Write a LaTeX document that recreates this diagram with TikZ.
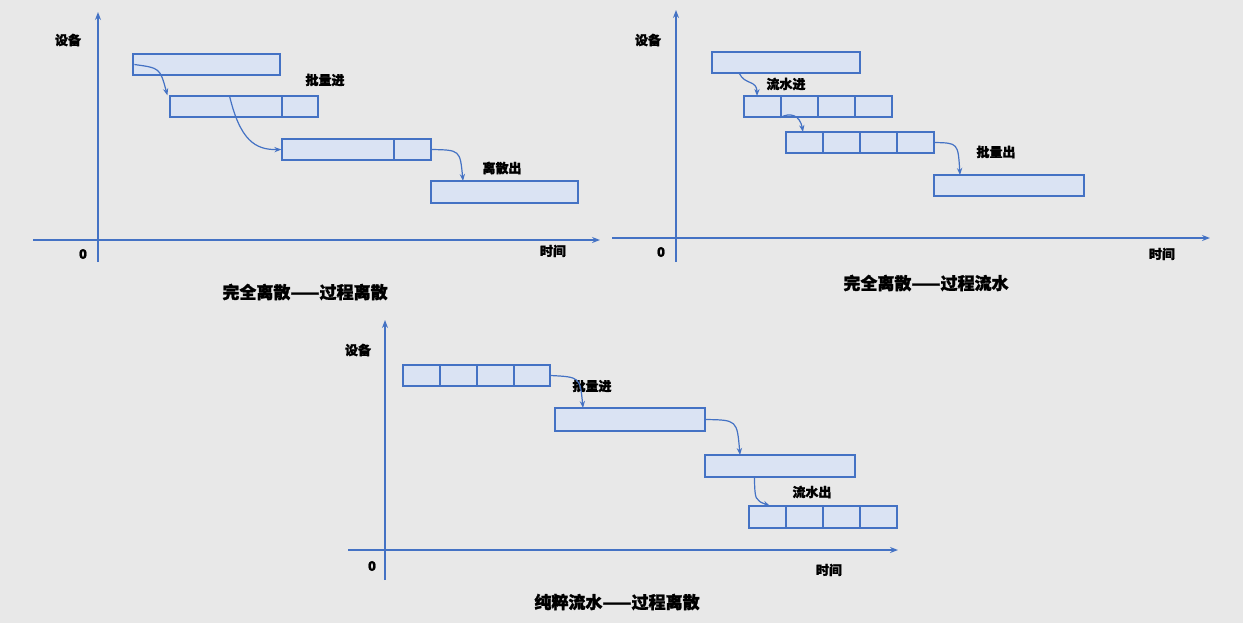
\documentclass[tikz,border=0pt]{standalone}
\usepackage{fontspec}
\setmainfont{Noto Sans CJK SC}[FakeBold=1.5]
\usetikzlibrary{arrows.meta}
\definecolor{bg}{HTML}{E8E8E8}
\definecolor{ax}{HTML}{4472C4}
\definecolor{bf}{HTML}{DAE3F3}
\tikzset{
 box/.style={draw=ax,fill=bf,line width=0.6pt,inner sep=0pt},
 axis/.style={draw=ax,line width=0.8pt,-{Stealth[length=4pt]}},
 flow/.style={draw=ax,line width=0.6pt,-{Stealth[length=3.5pt]}},
 lbl/.style={font=\fontsize{6.5pt}{7pt}\selectfont\bfseries,inner sep=0pt},
 ttl/.style={font=\fontsize{8.5pt}{9pt}\selectfont\bfseries,inner sep=0pt},
 dv/.style={draw=ax,line width=0.6pt}
}
\begin{document}
\begin{tikzpicture}[x=0.5pt,y=-0.5pt]
\fill[bg] (0,0) rectangle (1243,623);
\useasboundingbox (0,0) rectangle (1243,623);
% Panel 1
\draw[axis] (98,262) -- (98,12);
\draw[axis] (33,240) -- (600,240);
\node[lbl] (y1) at (68,40) {设备};
\node[lbl] (o1) at (83,254) {0};
\node[lbl] (t1) at (553,251) {时间};
\node[ttl] (h1) at (305,292) {完全离散——过程离散};
\node[box,minimum width=73.5pt,minimum height=10.5pt] (a1) at (206.5,64.5) {};
\node[box,minimum width=74pt,minimum height=10.5pt] (b1) at (244,106.5) {};
\node[box,minimum width=74.5pt,minimum height=10.5pt] (c1) at (356.5,149.5) {};
\node[box,minimum width=73.5pt,minimum height=11pt] (d1) at (504.5,192) {};
\draw[dv] (282,96) -- (282,117);
\draw[dv] (394,139) -- (394,160);
\node[lbl] (l11) at (325,80) {批量进};
\node[lbl] (l12) at (502,168) {离散出};
\draw[flow] ([xshift=1pt]a1.west) .. controls (160,68) .. ([xshift=-1pt]b1.north west);
\draw[flow] ([xshift=30pt]b1.north west) .. controls (240,140) and (255,150) .. (c1.west);
\draw[flow] (c1.east) .. controls (460,150) .. (463,181);
% Panel 2
\draw[axis] (676,262) -- (676,10);
\draw[axis] (612,238) -- (1210,238);
\node[lbl] (y2) at (648,40) {设备};
\node[lbl] (o2) at (661,252) {0};
\node[lbl] (t2) at (1162,254) {时间};
\node[ttl] (h2) at (926,283) {完全离散——过程流水};
\node[box,minimum width=74pt,minimum height=10.5pt] (a2) at (786,62.5) {};
\node[box,minimum width=74pt,minimum height=10.5pt] (b2) at (818,106.5) {};
\node[box,minimum width=74pt,minimum height=10.5pt] (c2) at (860,142.5) {};
\node[box,minimum width=75pt,minimum height=10.5pt] (d2) at (1009,185.5) {};
\foreach \x in {781,818,855} \draw[dv] (\x,96) -- (\x,117);
\foreach \x in {823,860,897} \draw[dv] (\x,132) -- (\x,153);
\node[lbl] (l21) at (786,84) {流水进};
\node[lbl] (l22) at (996,152) {批量出};
\draw[flow] ([xshift=14pt]a2.south west) .. controls (745,85) and (757,80) .. (757,96);
\draw[flow] ([xshift=18.5pt]b2.south west) .. controls (790,112) and (800,115) .. (803,132);
\draw[flow] (c2.east) .. controls (958,143) .. (960,175);
% Panel 3
\draw[axis] (385,580) -- (385,320);
\draw[axis] (348,550) -- (898,550);
\node[lbl] (y3) at (358,350) {设备};
\node[lbl] (o3) at (372,566) {0};
\node[lbl] (t3) at (829,570) {时间};
\node[ttl] (h3) at (617,602) {纯粹流水——过程离散};
\node[box,minimum width=73.5pt,minimum height=10.5pt] (a3) at (476.5,375.5) {};
\node[box,minimum width=75pt,minimum height=11.5pt] (b3) at (630,419.5) {};
\node[box,minimum width=75pt,minimum height=11pt] (c3) at (780,466) {};
\node[box,minimum width=74pt,minimum height=11pt] (d3) at (823,517) {};
\foreach \x in {440,477,514} \draw[dv] (\x,365) -- (\x,386);
\foreach \x in {786,823,860} \draw[dv] (\x,506) -- (\x,528);
\node[lbl] (l31) at (592,386) {批量进};
\node[lbl] (l32) at (812,492) {流水出};
\draw[flow] (a3.east) .. controls (580,377) .. (583,408);
\draw[flow] (b3.east) .. controls (737,420) .. (740,455);
\draw[flow] ([xshift=25pt]c3.south west) .. controls (755,500) .. (770,506);
\end{tikzpicture}
\end{document}
